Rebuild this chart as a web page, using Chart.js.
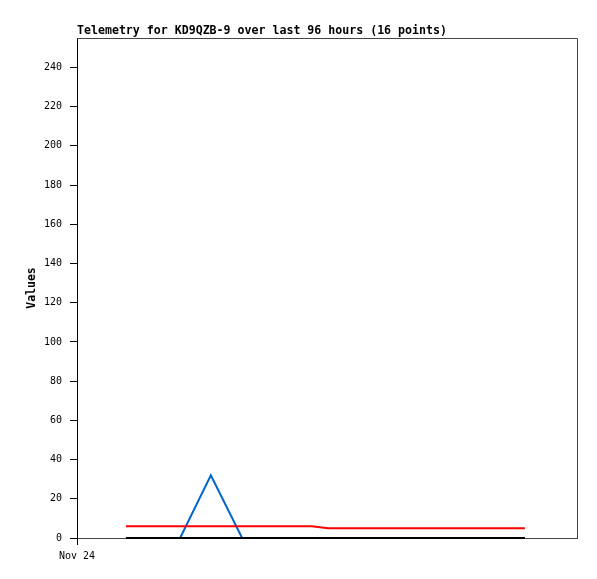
<!DOCTYPE html>
<html>
<head>
<meta charset="utf-8">
<script src="https://cdn.jsdelivr.net/npm/chart.js@4/dist/chart.umd.min.js"></script>
<style>
  html, body { margin: 0; padding: 0; background: #fff; }
  #wrap { width: 597px; height: 579px; }
</style>
</head>
<body>
<div id="wrap"><canvas id="chart"></canvas></div>
<script>
const TITLE = 'Telemetry for KD9QZB-9 over last 96 hours (16 points)'

// hours since start of window (Nov 24 00:00)
const hours = [9.4, 14.6, 19.8, 25.7, 31.7, 36.2, 40.7, 45.1, 48.2, 53.6, 59.0, 64.4, 69.8, 75.2, 80.6, 86.0]
const channelRed = [6, 6, 6, 6, 6, 6, 6, 6, 5, 5, 5, 5, 5, 5, 5, 5]
const channelBlue = [0, 0, 0, 32, 0, 0, 0, 0, 0, 0, 0, 0, 0, 0, 0, 0]
const channelBlack = [0, 0, 0, 0, 0, 0, 0, 0, 0, 0, 0, 0, 0, 0, 0, 0]
const xTickLabels = { 0: 'Nov 24' }

const pts = (vals) => vals.map((v, i) => ({ x: hours[i], y: v }))

const line = (label, color, vals) => ({
  label,
  data: pts(vals),
  borderColor: color,
  backgroundColor: color,
  borderWidth: 2,
  pointRadius: 0,
  tension: 0,
  fill: false,
  clip: 4,
})

const mono = 'DejaVu Sans Mono, monospace'

const framePlugin = {
  id: 'frame',
  afterDraw(chart) {
    const { ctx, chartArea: a } = chart
    ctx.save()
    ctx.strokeStyle = '#444'
    ctx.lineWidth = 1
    ctx.beginPath()
    ctx.moveTo(a.left, a.top + 0.5)
    ctx.lineTo(a.right + 0.5, a.top + 0.5)
    ctx.lineTo(a.right + 0.5, a.bottom)
    ctx.stroke()
    ctx.fillStyle = '#000'
    ctx.font = 'bold 11.6px ' + mono
    ctx.textBaseline = 'middle'
    ctx.textAlign = 'left'
    ctx.fillText(TITLE, a.left, 31)
    ctx.restore()
  },
}

new Chart(document.getElementById('chart'), {
  type: 'line',
  data: {
    datasets: [
      line('Ch3', '#000000', channelBlack),
      line('Ch1', '#ff0000', channelRed),
      line('Ch2', '#0066cc', channelBlue),
    ],
  },
  options: {
    responsive: true,
    maintainAspectRatio: false,
    animation: false,
    layout: { padding: { top: 38, right: 20, left: 0, bottom: 0 } },
    plugins: {
      legend: { display: false },
      tooltip: { enabled: false },
    },
    scales: {
      x: {
        type: 'linear',
        min: 0,
        max: 96,
        afterBuildTicks: (s) => { s.ticks = [{ value: 0 }] },
        afterFit: (s) => { s.height = 41 },
        ticks: {
          callback: (v) => xTickLabels[v] || '',
          color: '#000',
          font: { family: mono, size: 10 },
          padding: 5,
          maxRotation: 0,
        },
        grid: { drawOnChartArea: false, color: '#000', tickLength: 7 },
        border: { color: '#444', width: 1 },
      },
      y: {
        min: 0,
        max: 255,
        afterBuildTicks: (s) => {
          s.ticks = s.ticks.filter((t) => t.value % 20 === 0)
        },
        afterFit: (s) => { s.width = 77 },
        ticks: {
          stepSize: 20,
          color: '#000',
          font: { family: mono, size: 10 },
          padding: 8,
        },
        grid: { drawOnChartArea: false, color: '#000', tickLength: 7 },
        border: { color: '#000', width: 1 },
        title: {
          display: true,
          text: 'Values',
          color: '#000',
          font: { family: mono, size: 11.5, weight: 'bold' },
          padding: { top: 25, bottom: 0 },
        },
      },
    },
  },
  plugins: [framePlugin],
})
</script>
</body>
</html>
